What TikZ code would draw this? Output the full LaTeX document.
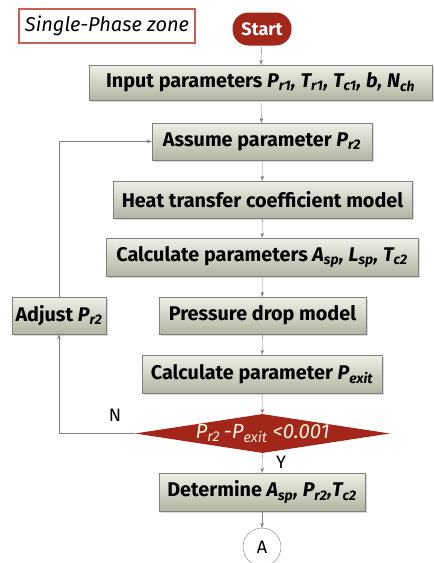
\documentclass[tikz,border=0pt]{standalone}
\usepackage{fontspec}
\setmainfont{Fira Sans}
\usetikzlibrary{shapes.geometric,shadows,arrows.meta}
\definecolor{boxtop}{HTML}{EEF0E6}
\definecolor{boxbot}{HTML}{B0B6A2}
\definecolor{darkred}{HTML}{A3261B}
\definecolor{pinkline}{HTML}{CC5F55}
\definecolor{linegray}{HTML}{7F7F7F}
\definecolor{paletext}{HTML}{FBF3D9}
\newcommand{\vsub}[2]{\textit{#1\textsubscript{#2}}}

\begin{document}
\begin{tikzpicture}[x=1pt,y=-1pt,
    stepbox/.style={rectangle,draw=linegray,top color=boxtop,bottom color=boxbot,
      inner sep=0pt,font=\fontsize{19.8}{21}\selectfont\bfseries,
      drop shadow={shadow xshift=1.5pt,shadow yshift=-1.5pt,opacity=0.3}},
    flow/.style={draw=linegray,-{Stealth[length=5pt,width=3.5pt]}},
    >={Stealth[length=5pt,width=3.5pt]}]
  \useasboundingbox (0,0) rectangle (434,563);

  \node (zone) at (107,26) [rectangle,draw=pinkline,line width=1.2pt,fill=white,minimum width=176pt,minimum height=34pt,font=\fontsize{20}{22}\selectfont\itshape] {Single-Phase zone};
  \node (start) at (262,29) [rectangle,rounded corners=16pt,fill=darkred,text=white,minimum width=59pt,minimum height=33pt,font=\fontsize{18}{20}\selectfont\bfseries] {Start};

  \node (input) at (260.5,82.5) [stepbox,minimum width=343pt,minimum height=35pt] {Input parameters \vsub{P}{r1}\textit{,} \vsub{T}{r1}\textit{,} \vsub{T}{c1}\textit{,} \textit{b}\textit{,} \vsub{N}{ch}};
  \node (assume) at (262,141.5) [stepbox,minimum width=220pt,minimum height=37pt] {Assume parameter \vsub{P}{r2}};
  \node (heat) at (262.5,199.5) [stepbox,minimum width=299pt,minimum height=37pt] {Heat transfer coefficient model};
  \node (calca) at (262,257) [stepbox,minimum width=312pt,minimum height=38pt] {Calculate parameters \vsub{A}{sp}\textit{,} \vsub{L}{sp}\textit{,} \vsub{T}{c2}};
  \node (adjust) at (59,315.5) [stepbox,minimum width=94pt,minimum height=37pt] {Adjust \vsub{P}{r2}};
  \node (drop) at (262.5,315.5) [stepbox,minimum width=207pt,minimum height=37pt] {Pressure drop model};
  \node (pexit) at (262,374) [stepbox,minimum width=240pt,minimum height=38pt] {Calculate parameter \vsub{P}{exit}};
  \node (check) at (262.5,433.5) [diamond,aspect=6.5,fill=darkred,text=paletext,inner sep=0pt,minimum width=255pt,minimum height=39pt,font=\fontsize{20.5}{22}\selectfont\itshape] {\vsub{P}{r2}\,-\vsub{P}{exit} <0.001};
  \node (det) at (262,492) [stepbox,minimum width=206pt,minimum height=38pt] {Determine \vsub{A}{sp}\textit{,} \vsub{P}{r2}\textit{,}\vsub{T}{c2}};
  \node (cona) at (262,547) [circle,draw=linegray,fill=white,minimum size=38pt,inner sep=0pt,font=\fontsize{18}{20}\selectfont] {A};

  \node (nlabel) at (115,415) [font=\fontsize{18}{20}\selectfont] {N};
  \node (ylabel) at (281,462) [font=\fontsize{18}{20}\selectfont] {Y};

  \draw[flow] (start) -- (input);
  \draw[flow] (input) -- (assume);
  \draw[flow] (assume) -- (heat);
  \draw[flow] (heat) -- (calca);
  \draw[flow] (calca) -- (drop);
  \draw[flow] (drop) -- (pexit);
  \draw[flow] (pexit) -- (check);
  \draw[flow] (check) -- (det);
  \draw[flow] (det) -- (cona);
  \draw[flow] (check.west) -| (adjust.south);
  \draw[flow] (adjust.north) |- (assume.west);
\end{tikzpicture}
\end{document}
